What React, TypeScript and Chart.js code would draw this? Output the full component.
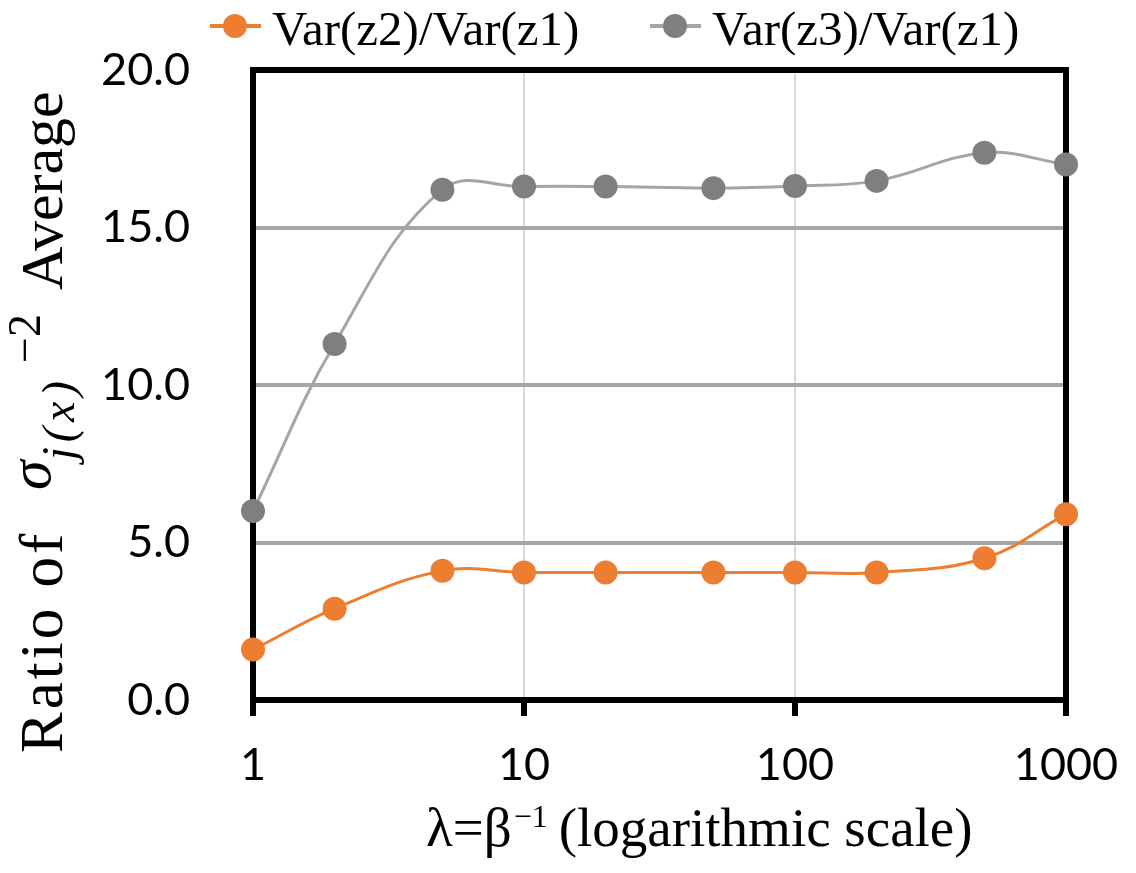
import React, { useEffect, useRef } from 'react';
import { Chart, registerables } from 'chart.js';

Chart.register(...registerables);

// ---- data ----
const lambdaValues = [1, 2, 5, 10, 20, 50, 100, 200, 500, 1000];
const ratioZ2 = [1.6, 2.9, 4.1, 4.05, 4.05, 4.05, 4.05, 4.05, 4.5, 5.9];
const ratioZ3 = [6.0, 11.3, 16.2, 16.3, 16.3, 16.25, 16.32, 16.48, 17.37, 17.0];
const seriesLabels = ['Var(z2)/Var(z1)', 'Var(z3)/Var(z1)'];
const xTickValues = [1, 10, 100, 1000];
const yMin = 0;
const yMax = 20;
const yStep = 5;

const ORANGE = '#ED7D31';
const GRAY_LINE = '#A5A5A5';
const GRAY_POINT = '#7F7F7F';
const SERIF = '"Liberation Serif", "Times New Roman", serif';
const SANS = 'Lato, "Open Sans", sans-serif';

const framePlugin = {
  id: 'frame',
  beforeDatasetsDraw(chart: any) {
    const { ctx, chartArea } = chart;
    ctx.save();
    ctx.strokeStyle = '#000';
    ctx.lineWidth = 6;
    ctx.lineJoin = 'miter';
    ctx.strokeRect(chartArea.left, chartArea.top, chartArea.right - chartArea.left, chartArea.bottom - chartArea.top);
    ctx.restore();
  },
};

const textPlugin = {
  id: 'texts',
  afterDraw(chart: any) {
    const ctx: CanvasRenderingContext2D = chart.ctx;
    ctx.save();
    // legend
    const legendItems = [
      { label: seriesLabels[0], line: ORANGE, dot: ORANGE, x0: 210 },
      { label: seriesLabels[1], line: GRAY_LINE, dot: GRAY_POINT, x0: 650 },
    ];
    legendItems.forEach((it) => {
      ctx.strokeStyle = it.line;
      ctx.lineWidth = 4;
      ctx.beginPath();
      ctx.moveTo(it.x0, 26);
      ctx.lineTo(it.x0 + 51, 26);
      ctx.stroke();
      ctx.fillStyle = it.dot;
      ctx.beginPath();
      ctx.arc(it.x0 + 25, 26, 12, 0, Math.PI * 2);
      ctx.fill();
      ctx.fillStyle = '#000';
      ctx.font = `49px ${SERIF}`;
      ctx.textAlign = 'left';
      ctx.textBaseline = 'alphabetic';
      ctx.fillText(it.label, it.x0 + 62, 45);
    });

    // x-axis title
    ctx.fillStyle = '#000';
    ctx.textAlign = 'left';
    ctx.textBaseline = 'alphabetic';
    let cx = 426;
    const base = 846;
    ctx.font = `55px ${SERIF}`;
    ctx.fillText('λ=β', cx, base);
    cx += ctx.measureText('λ=β').width + 2;
    ctx.font = `32px ${SERIF}`;
    ctx.fillText('−1', cx, base - 19);
    cx += ctx.measureText('−1').width + 11;
    ctx.font = `55px ${SERIF}`;
    ctx.fillText('(logarithmic scale)', cx, base);

    // y-axis title (rotated)
    const rot = (text: string, font: string, yStart: number, xBase: number, spacing = '0px') => {
      ctx.save();
      ctx.translate(xBase, yStart);
      ctx.rotate(-Math.PI / 2);
      ctx.font = font;
      (ctx as any).letterSpacing = spacing;
      ctx.textAlign = 'left';
      ctx.textBaseline = 'alphabetic';
      ctx.fillText(text, 0, 0);
      ctx.restore();
    };
    rot('Ratio of', `61px ${SERIF}`, 753, 62, '3px');
    rot('σ', `italic 60px ${SERIF}`, 490, 50);
    rot('j(x)', `italic 46px ${SERIF}`, 460, 74, '5px');
    rot('−2', `46px ${SERIF}`, 363, 40);
    rot('Average', `60px ${SERIF}`, 290, 62);
    ctx.restore();
  },
};

export default function App() {
  const ref = useRef<HTMLCanvasElement>(null);
  useEffect(() => {
    let chart: Chart | null = null;
    let cancelled = false;
    const ready = Promise.all([
      document.fonts.load('45px Lato'),
      document.fonts.load('60px "Liberation Serif"'),
      document.fonts.load('italic 60px "Liberation Serif"'),
    ]).catch(() => null);
    ready.then(() => {
      if (cancelled || !ref.current) return;
      chart = new Chart(ref.current, {
        type: 'line',
        data: {
          datasets: [
            {
              label: seriesLabels[0],
              data: lambdaValues.map((x, i) => ({ x, y: ratioZ2[i] })),
              borderColor: ORANGE,
              backgroundColor: ORANGE,
              borderWidth: 3,
              pointRadius: 12,
              pointHoverRadius: 12,
              pointBorderWidth: 0,
              pointBackgroundColor: ORANGE,
              tension: 0.4,
              clip: false as any,
            },
            {
              label: seriesLabels[1],
              data: lambdaValues.map((x, i) => ({ x, y: ratioZ3[i] })),
              borderColor: GRAY_LINE,
              backgroundColor: GRAY_POINT,
              borderWidth: 3,
              pointRadius: 12,
              pointHoverRadius: 12,
              pointBorderWidth: 0,
              pointBackgroundColor: GRAY_POINT,
              tension: 0.4,
              clip: false as any,
            },
          ],
        },
        options: {
          animation: false,
          responsive: true,
          maintainAspectRatio: false,
          layout: { padding: { top: 70, right: 70, left: 0, bottom: 0 }, autoPadding: false },
          plugins: {
            legend: { display: false },
            tooltip: { enabled: false },
            title: { display: false },
          },
          events: [],
          scales: {
            x: {
              type: 'logarithmic',
              min: lambdaValues[0],
              max: lambdaValues[lambdaValues.length - 1],
              afterBuildTicks: (s: any) => {
                s.ticks = xTickValues.map((v) => ({ value: v, major: true }));
              },
              afterFit: (s: any) => {
                s.height = 173;
                s.paddingLeft = 0;
                s.paddingRight = 0;
                s.paddingTop = 0;
                s.paddingBottom = 0;
              },
              ticks: {
                autoSkip: false,
                maxRotation: 0,
                minRotation: 0,
                padding: 22,
                color: '#000',
                font: { family: SANS, size: 45 },
                callback: (v: any) => String(v),
              },
              grid: {
                color: '#D9D9D9',
                lineWidth: 2,
                drawTicks: true,
                tickLength: 16,
                tickColor: '#000',
                tickWidth: 6,
              },
              border: { display: false },
            },
            y: {
              type: 'linear',
              min: yMin,
              max: yMax,
              afterFit: (s: any) => {
                s.width = 253;
                s.paddingLeft = 0;
                s.paddingRight = 0;
                s.paddingTop = 0;
                s.paddingBottom = 0;
              },
              ticks: {
                stepSize: yStep,
                padding: 63,
                color: '#000',
                font: { family: SANS, size: 45 },
                callback: (v: any) => Number(v).toFixed(1),
              },
              grid: {
                color: '#A6A6A6',
                lineWidth: 4,
                drawTicks: false,
              },
              border: { display: false },
            },
          },
        },
        plugins: [framePlugin, textPlugin],
      } as any);
    });
    return () => {
      cancelled = true;
      if (chart) chart.destroy();
    };
  }, []);
  return (
    <div style={{ position: 'fixed', left: 0, top: 0, width: 1136, height: 873, background: '#fff' }}>
      <canvas ref={ref} />
    </div>
  );
}
